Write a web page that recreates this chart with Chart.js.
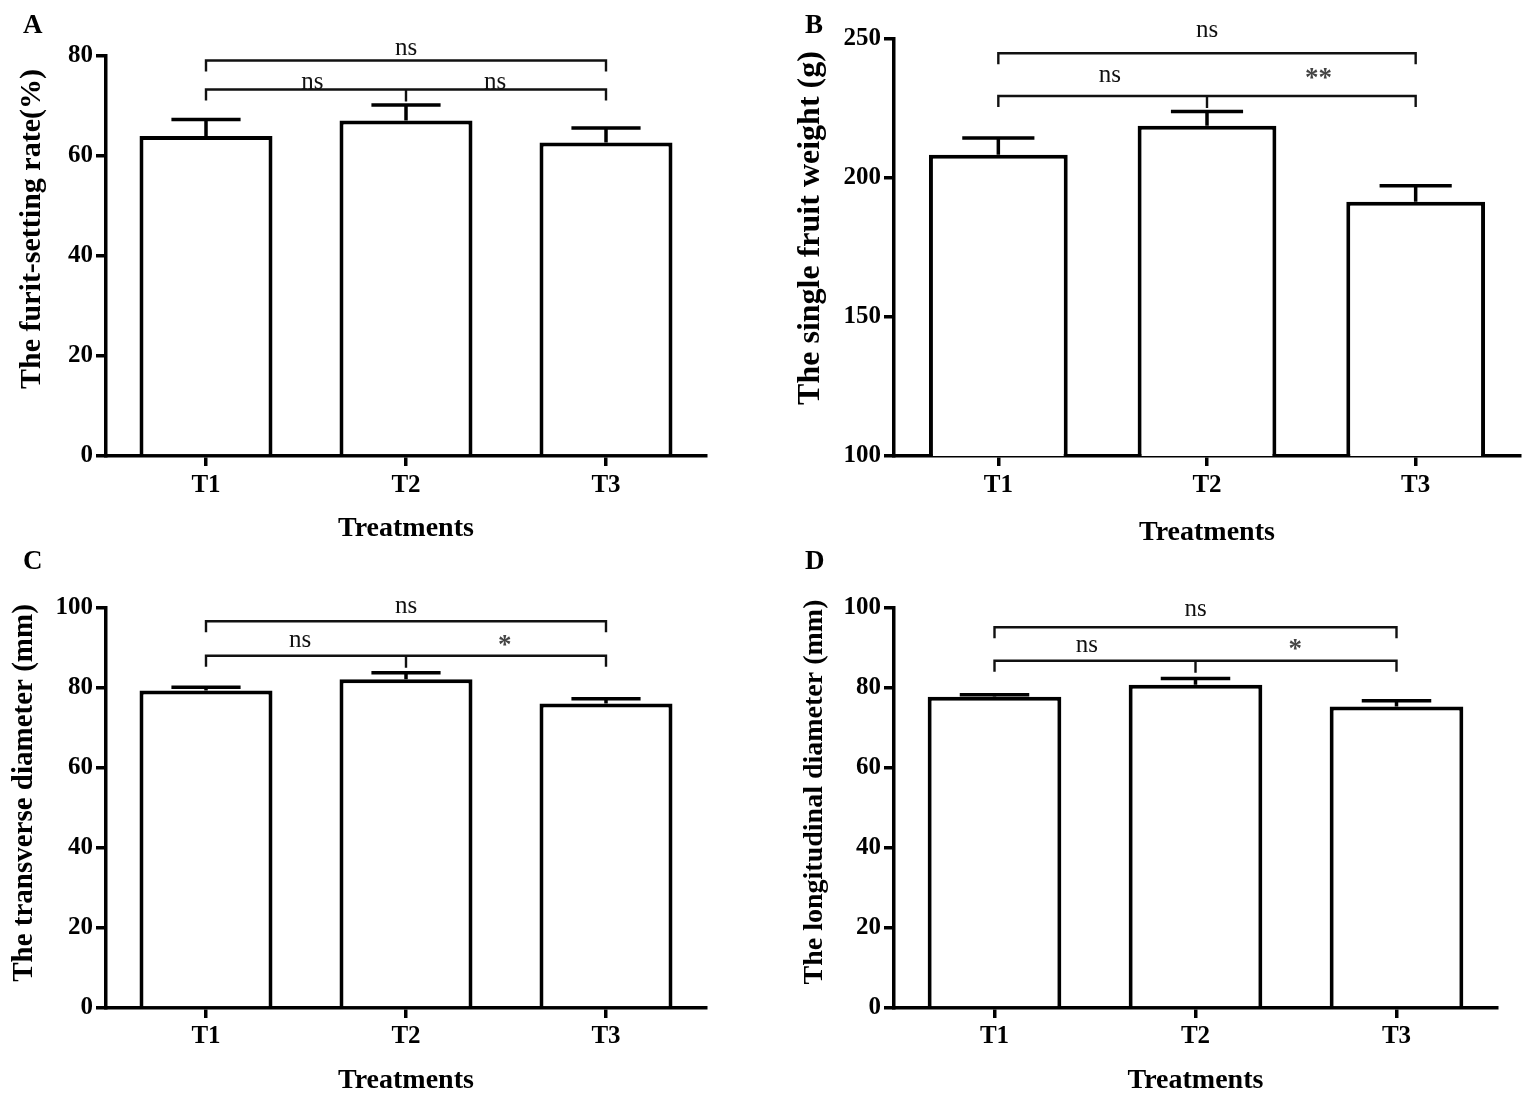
<!DOCTYPE html>
<html>
<head>
<meta charset="utf-8">
<title>Fruit traits by treatment</title>
<script src="https://cdn.jsdelivr.net/npm/chart.js@4.4.1/dist/chart.umd.min.js"></script>
<style>
  html, body { margin: 0; padding: 0; background: #fff; }
  #fig { position: relative; width: 1535px; height: 1101px; overflow: hidden; }
  #fig canvas { position: absolute; }
  .tag { position: absolute; line-height: 1; color: #000;
         font: bold 27px 'Liberation Serif', 'Times New Roman', serif; }
</style>
</head>
<body>
<div id="fig">
  <canvas id="chartA" width="767" height="550" style="left:0;top:0"></canvas>
  <canvas id="chartB" width="768" height="550" style="left:767px;top:0"></canvas>
  <canvas id="chartC" width="767" height="551" style="left:0;top:550px"></canvas>
  <canvas id="chartD" width="768" height="551" style="left:767px;top:550px"></canvas>
  <div class="tag" style="left:23px;top:9px">A</div>
  <div class="tag" style="left:805px;top:9px">B</div>
  <div class="tag" style="left:23px;top:545px">C</div>
  <div class="tag" style="left:805px;top:545px">D</div>
</div>
<script>
const treatments = ['T1', 'T2', 'T3'];

// A - fruit-setting rate (%)
const setRateMean   = [64.0, 67.1, 62.7];
const setRateErr    = [3.3, 3.1, 2.9];
const setRateTicks  = [0, 20, 40, 60, 80];
const setRateLevels = [79.1, 73.3];          // bracket heights: T1-T3, T1/T2/T3
const setRateMarks  = ['ns', 'ns', 'ns'];
const setRateMarkY  = [81.6, 74.7, 74.7];

// B - single fruit weight (g)
const weightMean   = [208.4, 218.8, 191.5];
const weightErr    = [6.0, 5.1, 5.7];
const weightTicks  = [100, 150, 200, 250];
const weightLevels = [244.9, 229.5];
const weightMarks  = ['ns', 'ns', '**'];
const weightMarkY  = [253.0, 237.0, 235.5];

// C - transverse diameter (mm)
const transMean   = [79.4, 82.2, 76.1];
const transErr    = [0.8, 1.6, 1.2];
const transTicks  = [0, 20, 40, 60, 80, 100];
const transLevels = [96.7, 88.05];
const transMarks  = ['ns', 'ns', '*'];
const transMarkY  = [100.3, 91.9, 90.6];

// D - longitudinal diameter (mm)
const longMean   = [77.8, 80.8, 75.4];
const longErr    = [0.5, 1.6, 1.4];
const longTicks  = [0, 20, 40, 60, 80, 100];
const longLevels = [95.2, 86.8];
const longMarks  = ['ns', 'ns', '*'];
const longMarkY  = [99.75, 90.6, 89.4];

const FONT = "'Liberation Serif', 'Times New Roman', serif";
const INK  = '#000';

// upward-only SEM bars with a cap
const errorBars = {
  id: 'errorBars',
  afterDatasetsDraw(chart, args, o) {
    const { ctx, scales: { y } } = chart;
    const ds = chart.data.datasets[0].data;
    ctx.save();
    ctx.strokeStyle = INK;
    ctx.lineWidth = 3.5;
    chart.getDatasetMeta(0).data.forEach((bar, i) => {
      const top = y.getPixelForValue(ds[i] + o.err[i]);
      const half = bar.width * 0.26;
      ctx.beginPath();
      ctx.moveTo(bar.x, bar.y);
      ctx.lineTo(bar.x, top);
      ctx.moveTo(bar.x - half, top);
      ctx.lineTo(bar.x + half, top);
      ctx.stroke();
    });
    ctx.restore();
  }
};

// significance brackets + labels
const brackets = {
  id: 'brackets',
  afterDraw(chart, args, o) {
    const { ctx, scales: { x, y } } = chart;
    const x1 = x.getPixelForValue(0), x2 = x.getPixelForValue(1), x3 = x.getPixelForValue(2);
    const yTop = y.getPixelForValue(o.levels[0]);
    const yLow = y.getPixelForValue(o.levels[1]);
    ctx.save();
    ctx.strokeStyle = '#111';
    ctx.lineWidth = 2.4;
    ctx.beginPath();
    ctx.moveTo(x1, yTop + 11); ctx.lineTo(x1, yTop); ctx.lineTo(x3, yTop); ctx.lineTo(x3, yTop + 11);
    ctx.moveTo(x1, yLow + 11); ctx.lineTo(x1, yLow); ctx.lineTo(x3, yLow); ctx.lineTo(x3, yLow + 11);
    ctx.moveTo(x2, yLow); ctx.lineTo(x2, yLow + 12);
    ctx.stroke();

    ctx.textAlign = 'center';
    ctx.textBaseline = 'middle';
    const xs = [x2, x1 + (x3 - x1) * o.frac[0], x1 + (x3 - x1) * o.frac[1]];
    o.marks.forEach((m, i) => {
      const star = m.startsWith('*');
      ctx.font = (star ? 'bold 27px ' : '25px ') + FONT;
      ctx.fillStyle = star ? '#444' : '#111';
      ctx.fillText(m, xs[i], y.getPixelForValue(o.markY[i]));
    });
    ctx.restore();
  }
};

// rotated y-axis title placed like the original figure
const yTitle = {
  id: 'yTitle',
  afterDraw(chart, args, o) {
    const { ctx } = chart;
    ctx.save();
    ctx.translate(o.x, o.y);
    ctx.rotate(-Math.PI / 2);
    ctx.font = 'bold ' + o.size + 'px ' + FONT;
    ctx.fillStyle = INK;
    ctx.textAlign = 'center';
    ctx.textBaseline = 'middle';
    ctx.fillText(o.text, 0, 0);
    ctx.restore();
  }
};

function makePanel(p) {
  const cv = document.getElementById(p.id);
  const W = cv.width, H = cv.height;
  const [bx, by] = p.box;
  const [al, at, ar, ab] = p.area;
  const yAxisW = al - bx;
  const xAxisH = by + H - ab;
  const xTitleLH = 28 * 1.2;

  const axisLine = { display: true, color: INK, width: 3.5 };
  const tickMarks = { display: true, drawOnChartArea: false, drawTicks: true, offset: false,
                      tickLength: 10, lineWidth: 3.5, color: INK };

  return new Chart(cv, {
    type: 'bar',
    data: {
      labels: treatments,
      datasets: [{
        data: p.mean,
        backgroundColor: '#fff',
        borderColor: INK,
        borderWidth: 4,
        borderSkipped: 'start',
        barPercentage: 0.665,
        categoryPercentage: 1
      }]
    },
    options: {
      responsive: false,
      animation: false,
      layout: { padding: { left: 0, top: at - by, right: bx + W - ar, bottom: 0 } },
      plugins: {
        legend: { display: false },
        tooltip: { enabled: false },
        errorBars: { err: p.err },
        brackets: { levels: p.levels, marks: p.marks, markY: p.markY, frac: p.frac },
        yTitle: { text: p.yTitle, x: p.yTitlePos[0] - bx, y: p.yTitlePos[1] - by, size: p.yTitleSize }
      },
      scales: {
        x: {
          grid: tickMarks,
          border: axisLine,
          ticks: { color: INK, padding: p.xTickPad, font: { family: FONT, size: 25, weight: 'bold' } },
          title: {
            display: true, text: 'Treatments', color: INK,
            font: { family: FONT, size: 28, weight: 'bold' },
            padding: { top: 0, bottom: by + H - p.xTitleY - xTitleLH / 2 }
          },
          afterFit: s => { s.height = xAxisH; }
        },
        y: {
          min: p.ticks[0],
          max: p.ticks[p.ticks.length - 1],
          afterBuildTicks: s => { s.ticks = p.ticks.map(v => ({ value: v })); },
          grid: tickMarks,
          border: axisLine,
          ticks: { color: INK, padding: 3, font: { family: FONT, size: 25, weight: 'bold' } },
          afterFit: s => { s.width = yAxisW; }
        }
      }
    },
    plugins: [errorBars, brackets, yTitle]
  });
}

makePanel({
  id: 'chartA', box: [0, 0], area: [106, 56, 706, 456],
  mean: setRateMean, err: setRateErr, ticks: setRateTicks,
  levels: setRateLevels, marks: setRateMarks, markY: setRateMarkY, frac: [0.266, 0.723],
  yTitle: 'The furit-setting rate(%)', yTitlePos: [32, 229], yTitleSize: 30,
  xTickPad: 5, xTitleY: 529
});

makePanel({
  id: 'chartB', box: [767, 0], area: [894, 39, 1520, 456],
  mean: weightMean, err: weightErr, ticks: weightTicks,
  levels: weightLevels, marks: weightMarks, markY: weightMarkY, frac: [0.267, 0.767],
  yTitle: 'The single fruit weight (g)', yTitlePos: [811, 228], yTitleSize: 32,
  xTickPad: 5, xTitleY: 533
});

makePanel({
  id: 'chartC', box: [0, 550], area: [106, 608, 706, 1008],
  mean: transMean, err: transErr, ticks: transTicks,
  levels: transLevels, marks: transMarks, markY: transMarkY, frac: [0.235, 0.747],
  yTitle: 'The transverse diameter (mm)', yTitlePos: [25, 793], yTitleSize: 29,
  xTickPad: 4, xTitleY: 1081
});

makePanel({
  id: 'chartD', box: [767, 550], area: [894, 608, 1497, 1008],
  mean: longMean, err: longErr, ticks: longTicks,
  levels: longLevels, marks: longMarks, markY: longMarkY, frac: [0.23, 0.748],
  yTitle: 'The longitudinal diameter (mm)', yTitlePos: [815, 792], yTitleSize: 28,
  xTickPad: 4, xTitleY: 1081
});
</script>
</body>
</html>
